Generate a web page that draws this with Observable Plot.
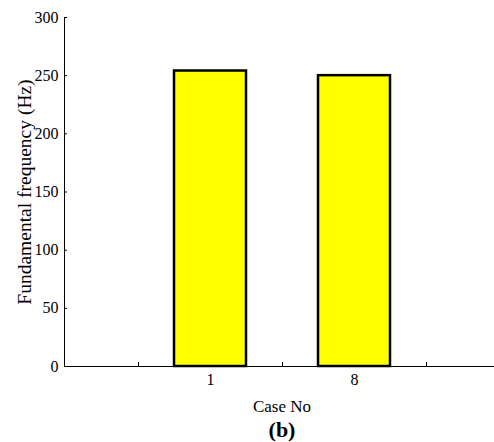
<!DOCTYPE html>
<html>
<head>
<meta charset="utf-8">
<script src="https://cdn.jsdelivr.net/npm/d3@7"></script>
<script src="https://cdn.jsdelivr.net/npm/@observablehq/plot@0.6"></script>
<style>
  html, body { margin: 0; padding: 0; background: #fff; }
  #wrap { position: relative; width: 494px; height: 442px; font-family: 'Liberation Serif', serif; }
  #wrap svg { display: block; font-family: 'Liberation Serif', serif !important; }
  #wrap svg text { font-family: 'Liberation Serif', serif; }
  #wrap g[aria-label="x-axis label"] text { font-size: 17px; }
  #wrap g[aria-label="y-axis label"] text { font-size: 19.5px; }
  #cap { position: absolute; left: 282px; top: 419px; transform: translateX(-50%); font-weight: bold; font-size: 22px; line-height: 22px; color: #000; font-family: 'Liberation Serif', serif; }
</style>
</head>
<body>
<div id="wrap"></div>
<script>
// Data
const xSlots = ["s0", "1", "s2", "8", "s4"];
const cases = ["1", "8"];
const freqs = [254, 250];
const yTicks = [0, 50, 100, 150, 200, 250, 300];
const xLabel = "Case No";
const yLabel = "Fundamental frequency (Hz)";
const panel = "(b)";

const data = cases.map((c, i) => ({case: c, f: freqs[i]}));

const chart = Plot.plot({
  width: 494,
  height: 420,
  marginTop: 17,
  marginBottom: 54,
  marginLeft: 64,
  marginRight: -5,
  style: {fontFamily: "'Liberation Serif', serif", fontSize: "16px", color: "#000", background: "#fff"},
  x: {type: "band", domain: xSlots, paddingInner: 0, paddingOuter: 0.5},
  y: {domain: [0, 300]},
  marks: [
    Plot.axisY({ticks: yTicks, tickSize: -3, tickPadding: 9, fontSize: 16, label: yLabel, labelAnchor: "center", labelOffset: 47, labelArrow: "none"}),
    Plot.axisX({tickSize: -4, tickPadding: 11, fontSize: 16, tickFormat: d => d.startsWith("s") ? "" : d, label: xLabel, labelAnchor: "center", labelOffset: 45, labelArrow: "none"}),
    Plot.frame({anchor: "left", stroke: "#000"}),
    Plot.ruleY([0], {stroke: "#000"}),
    Plot.barY(data, {x: "case", y: "f", fill: "#ffff00", stroke: "#000", strokeWidth: 2.5})
  ]
});
document.getElementById("wrap").appendChild(chart);
const cap = document.createElement("div");
cap.id = "cap";
cap.textContent = panel;
document.getElementById("wrap").appendChild(cap);
</script>
</body>
</html>
